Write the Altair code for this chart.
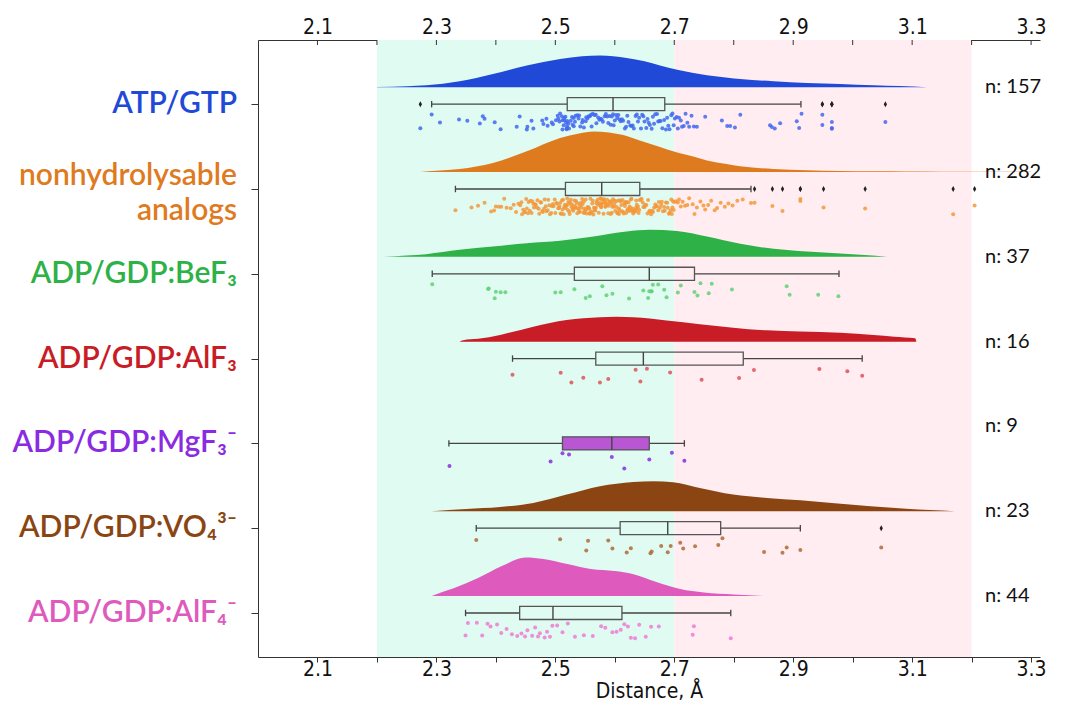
import math
import altair as alt
import pandas as pd

# ---------------- data ----------------
categories = ["ATP/GTP", "nonhydrolysable analogs", "ADP/GDP:BeF3", "ADP/GDP:AlF3",
              "ADP/GDP:MgF3-", "ADP/GDP:VO4 3-", "ADP/GDP:AlF4-"]
label_text = ["ATP/GTP", "nonhydrolysable\nanalogs", "ADP/GDP:BeF₃", "ADP/GDP:AlF₃",
              "ADP/GDP:MgF₃⁻", "ADP/GDP:VO₄³⁻", "ADP/GDP:AlF₄⁻"]
n_counts = [157, 282, 37, 16, 9, 23, 44]

points_atp = [
    2.273, 2.292, 2.306, 2.338, 2.352, 2.373, 2.378, 2.381, 2.398, 2.408, 2.435, 2.440,
    2.452, 2.453, 2.460, 2.463, 2.478, 2.480, 2.485, 2.487, 2.494, 2.496,
    2.501, 2.504, 2.505, 2.507, 2.508, 2.511, 2.512, 2.512, 2.514, 2.515, 2.515, 2.517,
    2.518, 2.519, 2.519, 2.520, 2.520,
    2.522, 2.523, 2.526, 2.528, 2.529, 2.531, 2.531, 2.533, 2.534, 2.537, 2.539, 2.540,
    2.542, 2.545, 2.546, 2.548, 2.551, 2.552, 2.554, 2.556, 2.558, 2.560, 2.561, 2.563,
    2.566, 2.568, 2.569, 2.572, 2.574, 2.576, 2.578, 2.580, 2.583, 2.585, 2.587, 2.589,
    2.591, 2.593, 2.595, 2.597,
    2.598, 2.600, 2.602, 2.604, 2.606, 2.608, 2.610, 2.612, 2.614, 2.617, 2.619, 2.621,
    2.623, 2.626, 2.628, 2.630, 2.632, 2.635, 2.637, 2.639, 2.641, 2.644, 2.646, 2.648,
    2.650, 2.653, 2.655, 2.657, 2.659, 2.662, 2.664, 2.666, 2.668, 2.671, 2.673, 2.675,
    2.677, 2.680, 2.683,
    2.686, 2.688, 2.690, 2.692, 2.695, 2.697, 2.699, 2.701, 2.704, 2.706, 2.708, 2.711,
    2.713, 2.716, 2.719, 2.722, 2.725, 2.729, 2.733,
    2.738, 2.752, 2.780, 2.789, 2.794, 2.802, 2.811, 2.861, 2.864, 2.869, 2.878, 2.906,
    2.910, 2.914, 2.949, 2.949, 2.965, 2.965, 2.965, 3.055,
]
points_nonhydro = [
    2.332, 2.359, 2.370, 2.381, 2.392, 2.397, 2.400, 2.405, 2.409, 2.414, 2.418, 2.425,
    2.430, 2.434, 2.438,
    2.441, 2.443, 2.444, 2.446, 2.448, 2.449, 2.451, 2.452, 2.454, 2.455,
    2.457, 2.458, 2.460, 2.461, 2.463, 2.464, 2.466, 2.467, 2.469, 2.470,
    2.472, 2.473, 2.475, 2.476, 2.478, 2.479, 2.481, 2.482, 2.484, 2.485,
    2.487, 2.488, 2.490, 2.491, 2.493, 2.494, 2.496, 2.497, 2.499, 2.500,
    2.502, 2.503, 2.505, 2.506, 2.507, 2.508, 2.509, 2.510, 2.511, 2.512,
    2.513, 2.514, 2.515, 2.516, 2.517,
    2.518, 2.519, 2.520, 2.521, 2.522, 2.522, 2.523, 2.524, 2.525, 2.526,
    2.527, 2.528, 2.529, 2.530, 2.531, 2.531, 2.532, 2.533, 2.534, 2.535,
    2.536, 2.537, 2.538, 2.539, 2.540, 2.540, 2.541, 2.542, 2.543, 2.544,
    2.545, 2.546, 2.547, 2.548, 2.549, 2.549, 2.550, 2.551, 2.552, 2.553,
    2.554, 2.555, 2.556, 2.557, 2.558, 2.558, 2.559, 2.560, 2.561, 2.562,
    2.563, 2.564, 2.565, 2.566, 2.567, 2.567, 2.568, 2.569, 2.570, 2.571,
    2.572, 2.573, 2.574, 2.575, 2.576, 2.576, 2.577, 2.577, 2.578, 2.578,
    2.579, 2.580, 2.581, 2.582, 2.583, 2.584, 2.585, 2.586, 2.587, 2.588,
    2.589, 2.590, 2.591, 2.592, 2.593, 2.594, 2.595, 2.596, 2.597, 2.598,
    2.599, 2.600, 2.601, 2.602, 2.603, 2.604, 2.605, 2.606, 2.607, 2.608,
    2.609, 2.610, 2.611, 2.612, 2.613, 2.614, 2.615, 2.616, 2.617, 2.618,
    2.619, 2.620, 2.621, 2.622, 2.623, 2.624, 2.625, 2.626, 2.627, 2.628,
    2.629, 2.630, 2.631, 2.632, 2.633, 2.634, 2.635, 2.636, 2.637, 2.638,
    2.639, 2.640, 2.641, 2.642, 2.583, 2.595, 2.607, 2.619, 2.627, 2.636,
    2.644, 2.645, 2.647, 2.648, 2.650, 2.651, 2.653, 2.655, 2.656, 2.658,
    2.659, 2.661, 2.663, 2.664, 2.666, 2.668, 2.669, 2.671, 2.673, 2.674,
    2.676, 2.678, 2.679, 2.681, 2.683, 2.684, 2.686, 2.688, 2.689, 2.691,
    2.692, 2.694, 2.695, 2.696, 2.697, 2.698, 2.699, 2.700,
    2.703, 2.706, 2.708, 2.711, 2.714, 2.718, 2.722, 2.725, 2.731, 2.734, 2.738, 2.744,
    2.749, 2.752, 2.757, 2.762, 2.768, 2.772, 2.778, 2.785, 2.791, 2.798, 2.806, 2.815,
    2.829,
    2.835, 2.865, 2.882, 2.912, 2.912, 2.951, 3.021, 3.169, 3.205,
]
points_bef3 = [
    2.293, 2.387, 2.388, 2.398, 2.400, 2.408, 2.416, 2.500, 2.509, 2.532, 2.551, 2.558,
    2.579, 2.586, 2.596, 2.624, 2.648, 2.656, 2.658, 2.661, 2.662, 2.664, 2.673, 2.683,
    2.687, 2.706, 2.711, 2.734, 2.739, 2.744, 2.758, 2.763, 2.797, 2.889, 2.894, 2.942,
    2.976,
]
points_alf3 = [2.428, 2.509, 2.527, 2.547, 2.575, 2.589, 2.635, 2.643, 2.654, 2.693,
               2.746, 2.809, 2.834, 2.944, 2.991, 3.016]
points_mgf3 = [2.322, 2.492, 2.512, 2.523, 2.595, 2.616, 2.658, 2.696, 2.717]
points_vo4 = [2.367, 2.508, 2.552, 2.555, 2.589, 2.596, 2.620, 2.627, 2.660, 2.662,
              2.678, 2.689, 2.694, 2.710, 2.715, 2.735, 2.774, 2.781, 2.851, 2.882,
              2.889, 2.912, 3.048]
points_alf4 = [
    2.349, 2.353, 2.368, 2.377, 2.386, 2.391, 2.402, 2.409, 2.418, 2.427,
    2.436, 2.443, 2.449, 2.453, 2.461, 2.466, 2.471, 2.474, 2.482, 2.486,
    2.491, 2.495, 2.503, 2.512, 2.521, 2.533, 2.548, 2.563, 2.577, 2.584,
    2.596, 2.603, 2.610, 2.616, 2.622, 2.627, 2.634, 2.641, 2.652, 2.661,
    2.674, 2.731, 2.733, 2.795,
]
all_points = [points_atp, points_nonhydro, points_bef3, points_alf3,
              points_mgf3, points_vo4, points_alf4]

# half-violin density outlines (x, density height)
violin_x = [
    [2.20, 2.25, 2.283, 2.339, 2.395, 2.452, 2.508, 2.545, 2.575, 2.62, 2.65, 2.676,
     2.705, 2.73, 2.755, 2.79, 2.811, 2.867, 2.923, 2.979, 3.035, 3.08, 3.125],
    [2.273, 2.30, 2.339, 2.395, 2.452, 2.508, 2.54, 2.564, 2.59, 2.62, 2.642, 2.676,
     2.698, 2.732, 2.755, 2.788, 2.811, 2.867, 2.923, 2.979, 3.035, 3.091, 3.15, 3.2,
     3.25, 3.30],
    [2.211, 2.25, 2.283, 2.339, 2.395, 2.452, 2.508, 2.564, 2.62, 2.659, 2.704, 2.755,
     2.811, 2.867, 2.923, 2.979, 3.02, 3.058],
    [2.339, 2.345, 2.37, 2.407, 2.463, 2.519, 2.575, 2.603, 2.631, 2.687, 2.743, 2.799,
     2.856, 2.912, 2.979, 3.035, 3.07, 3.105, 3.107],
    [],
    [2.292, 2.35, 2.407, 2.463, 2.519, 2.575, 2.631, 2.665, 2.698, 2.743, 2.799, 2.856,
     2.912, 2.97, 3.03, 3.09, 3.13, 3.172],
    [2.292, 2.31, 2.33, 2.37, 2.41, 2.45, 2.48, 2.52, 2.56, 2.60, 2.63, 2.67, 2.71,
     2.75, 2.80, 2.851],
]
violin_h = [
    [0.3, 1, 2, 6, 13.3, 21.7, 28.3, 31, 31.7, 29.3, 26, 21.7, 17.5, 14.5, 12, 9.5,
     8.3, 6, 4.3, 3.3, 2, 1.2, 0],
    [0, 1.2, 3, 9, 20.7, 34, 38.5, 40.5, 39.5, 36, 31.5, 25, 20.7, 15.5, 11.5, 8, 5.7,
     3, 1.7, 1, 0.7, 0.5, 0.4, 0.35, 0.3, 0.2],
    [0, 1.3, 2.7, 7, 10.3, 13.7, 16, 20.3, 25.3, 27, 25.8, 20.3, 13, 8, 5.3, 3.3, 1.8, 0],
    [0, 1.5, 2.8, 6.7, 15, 21.7, 24.3, 25, 24.3, 21.2, 17.5, 14, 11.3, 10.2, 9, 6.7, 5,
     3.3, 0],
    [],
    [0, 2.3, 4.3, 8.3, 16.7, 25, 29.3, 30, 29, 23.3, 16.7, 13.3, 11, 8, 5, 2.5, 1.2, 0],
    [0, 4, 8, 18, 30, 38.5, 37, 32, 27, 25, 22, 14, 7, 3.5, 1.5, 0],
]

whisker_lo = [2.292, 2.332, 2.293, 2.428, 2.321, 2.367, 2.349]
q1 = [2.520, 2.517, 2.532, 2.568, 2.512, 2.609, 2.440]
median = [2.597, 2.578, 2.658, 2.648, 2.595, 2.689, 2.496]
q3 = [2.684, 2.642, 2.734, 2.816, 2.658, 2.778, 2.612]
whisker_hi = [2.913, 2.829, 2.977, 3.016, 2.717, 2.912, 2.795]
outliers = [
    [2.273, 2.949, 2.949, 2.965, 2.965, 2.965, 3.055],
    [2.835, 2.865, 2.882, 2.912, 2.912, 2.951, 3.021, 3.169, 3.205],
    [], [], [],
    [3.048],
    [],
]

band_start = [2.2, 2.7]
band_end = [2.7, 3.2]
tick_values = [2.1, 2.2, 2.3, 2.4, 2.5, 2.6, 2.7, 2.8, 2.9, 3.0, 3.1, 3.2, 3.3]

# ---------------- styles ----------------
main_colors = ["#2149d8", "#df7b1f", "#2eb146", "#c81c26", "#8a2be2", "#8b4513", "#de5bbd"]
point_colors = ["#4267ef", "#f4983a", "#62d175", "#e1505a", "#8a2be2", "#b06a35", "#ef7bd2"]
box_fills = ["transparent", "transparent", "transparent", "transparent", "#b856d4",
             "transparent", "transparent"]
band_colors = ["#dffbf2", "#ffedf2"]

W, H = 782, 617
PX_PER_ROW = 84.8
VIOLIN_GAP = 0.2
BOX_HALF = 0.077
CAP_HALF = 0.038
POINT_OFF = 0.205
JITTER = 0.19
LABEL_FONT = "Lato"
AXIS_FONT = "Liberation Sans Narrow, DejaVu Sans Condensed, Roboto Condensed, Open Sans, sans-serif"

rows = list(range(len(categories)))


def jitter(i, r):
    v = math.sin((i + 1) * 12.9898 + r * 78.233) * 43758.5453
    return (v - math.floor(v)) - 0.5


# ---------------- tables ----------------
viol_df = pd.DataFrame([
    {"row": r, "x": x, "h": h, "color": main_colors[r]}
    for r in rows for x, h in zip(violin_x[r], violin_h[r])
])
pts_df = pd.DataFrame([
    {"row": r, "x": x, "jit": jitter(i, r), "color": point_colors[r]}
    for r in rows for i, x in enumerate(all_points[r])
])
stats_df = pd.DataFrame({"row": rows, "wlo": whisker_lo, "q1": q1, "med": median,
                         "q3": q3, "whi": whisker_hi, "fill": box_fills})
whisk_df = pd.DataFrame(
    [{"row": r, "a": whisker_lo[r], "b": q1[r]} for r in rows]
    + [{"row": r, "a": q3[r], "b": whisker_hi[r]} for r in rows]
)
caps_df = pd.DataFrame([{"row": r, "x": v} for r in rows for v in (whisker_lo[r], whisker_hi[r])])
out_df = pd.DataFrame([{"row": r, "x": v} for r in rows for v in outliers[r]])
lab_df = pd.DataFrame({"row": rows, "label": label_text, "color": main_colors})
n_df = pd.DataFrame({"row": rows, "n": [f"n: {n}" for n in n_counts]})
band_df = pd.DataFrame({"start": band_start, "end": band_end, "color": band_colors})
tick_df = pd.DataFrame({"t": tick_values})

x_scale = alt.Scale(domain=[2.0, 3.315], nice=False, zero=False)
y_scale = alt.Scale(domain=[-0.757, 6.519], reverse=True, nice=False, zero=False)

label_expr = "(round(datum.value * 10) % 2 == 1) ? format(datum.value, '.1f') : ''"
axis_common = dict(values=tick_values, labelExpr=label_expr, grid=False,
                   labelFont=AXIS_FONT, labelFontSize=21, labelColor="#111",
                   domainColor="#333", tickColor="#333")

bands = alt.Chart(band_df).mark_rect().encode(
    x=alt.X("start:Q", scale=x_scale,
            axis=alt.Axis(orient="top", title=None, ticks=False, labelPadding=3,
                          **axis_common)),
    x2="end:Q",
    y=alt.value(0), y2=alt.value(H),
    color=alt.Color("color:N", scale=None),
)

top_ticks = alt.Chart(tick_df).mark_rule(color="#333", strokeWidth=1).encode(
    x=alt.X("t:Q", scale=x_scale, axis=None),
    y=alt.value(0), y2=alt.value(5),
)

violins = alt.Chart(viol_df).transform_calculate(
    ytop=f"datum.row - {VIOLIN_GAP} - datum.h / {PX_PER_ROW}",
    ybase=f"datum.row - {VIOLIN_GAP}",
).mark_area(strokeWidth=0, interpolate="monotone").encode(
    x=alt.X("x:Q", scale=x_scale, axis=None),
    y=alt.Y("ytop:Q", scale=y_scale, axis=None),
    y2="ybase:Q",
    color=alt.Color("color:N", scale=None),
    detail="row:N",
)

whiskers = alt.Chart(whisk_df).mark_rule(color="#444", strokeWidth=1.3).encode(
    x=alt.X("a:Q", scale=x_scale, axis=None),
    x2="b:Q",
    y=alt.Y("row:Q", scale=y_scale, axis=None),
)

caps = alt.Chart(caps_df).transform_calculate(
    c0=f"datum.row - {CAP_HALF}", c1=f"datum.row + {CAP_HALF}"
).mark_rule(color="#444", strokeWidth=1.3).encode(
    x=alt.X("x:Q", scale=x_scale, axis=None),
    y=alt.Y("c0:Q", scale=y_scale, axis=None),
    y2="c1:Q",
)

boxes = alt.Chart(stats_df).transform_calculate(
    b0=f"datum.row - {BOX_HALF}", b1=f"datum.row + {BOX_HALF}"
).mark_rect(stroke="#555", strokeWidth=1.3).encode(
    x=alt.X("q1:Q", scale=x_scale, axis=None),
    x2="q3:Q",
    y=alt.Y("b0:Q", scale=y_scale,
            axis=alt.Axis(values=rows, labels=False, ticks=True, tickSize=7, title=None,
                          grid=False, domainColor="#333", tickColor="#333")),
    y2="b1:Q",
    fill=alt.Fill("fill:N", scale=None),
)

medians = alt.Chart(stats_df).transform_calculate(
    b0=f"datum.row - {BOX_HALF}", b1=f"datum.row + {BOX_HALF}"
).mark_rule(color="#444", strokeWidth=1.4).encode(
    x=alt.X("med:Q", scale=x_scale, axis=None),
    y=alt.Y("b0:Q", scale=y_scale, axis=None),
    y2="b1:Q",
)

points = alt.Chart(pts_df).transform_calculate(
    py=f"datum.row + {POINT_OFF} + datum.jit * {JITTER}"
).mark_circle(size=16, opacity=0.85).encode(
    x=alt.X("x:Q", scale=x_scale,
            axis=alt.Axis(orient="bottom", title="Distance, Å", titleFont=AXIS_FONT,
                          titleFontSize=21, titleFontWeight="normal", titleColor="#111",
                          titleBaseline="alphabetic", titleY=40,
                          tickSize=5, labelBaseline="middle", labelPadding=7,
                          **axis_common)),
    y=alt.Y("py:Q", scale=y_scale, axis=None),
    color=alt.Color("color:N", scale=None),
)

outlier_marks = alt.Chart(out_df).mark_point(
    shape="M0,-1L0.55,0L0,1L-0.55,0Z", filled=True, size=36, color="#222", opacity=1
).encode(
    x=alt.X("x:Q", scale=x_scale, axis=None),
    y=alt.Y("row:Q", scale=y_scale, axis=None),
)

label_style = dict(align="right", baseline="middle", font=LABEL_FONT, fontSize=30,
                   fontWeight=600, lineBreak="\n", lineHeight=35)

cat_labels = alt.Chart(lab_df).transform_filter("datum.row != 1").mark_text(
    **label_style
).encode(
    x=alt.value(-21),
    y=alt.Y("row:Q", scale=y_scale, axis=None),
    text="label:N",
    color=alt.Color("color:N", scale=None),
)

cat_labels_multi = alt.Chart(lab_df).transform_filter("datum.row == 1").mark_text(
    dy=-13, **label_style
).encode(
    x=alt.value(-21),
    y=alt.Y("row:Q", scale=y_scale, axis=None),
    text="label:N",
    color=alt.Color("color:N", scale=None),
)

n_labels = alt.Chart(n_df).transform_calculate(
    ny=f"datum.row - {VIOLIN_GAP}"
).mark_text(align="left", baseline="middle", font="Lato", fontSize=20, color="#111").encode(
    x=alt.value(727),
    y=alt.Y("ny:Q", scale=y_scale, axis=None),
    text="n:N",
)

chart = alt.layer(
    bands, top_ticks, violins, whiskers, caps, boxes, medians, points, outlier_marks,
    cat_labels, cat_labels_multi, n_labels,
).resolve_scale(x="shared", y="shared").resolve_axis(
    x="independent", y="independent"
).properties(
    width=W, height=H,
    padding={"left": 250, "top": 32, "right": 14, "bottom": 53},
    autosize=alt.AutoSizeParams(type="none"),
).configure_view(stroke=None)

chart.save("out.html", embed_options={"renderer": "svg", "actions": False})
